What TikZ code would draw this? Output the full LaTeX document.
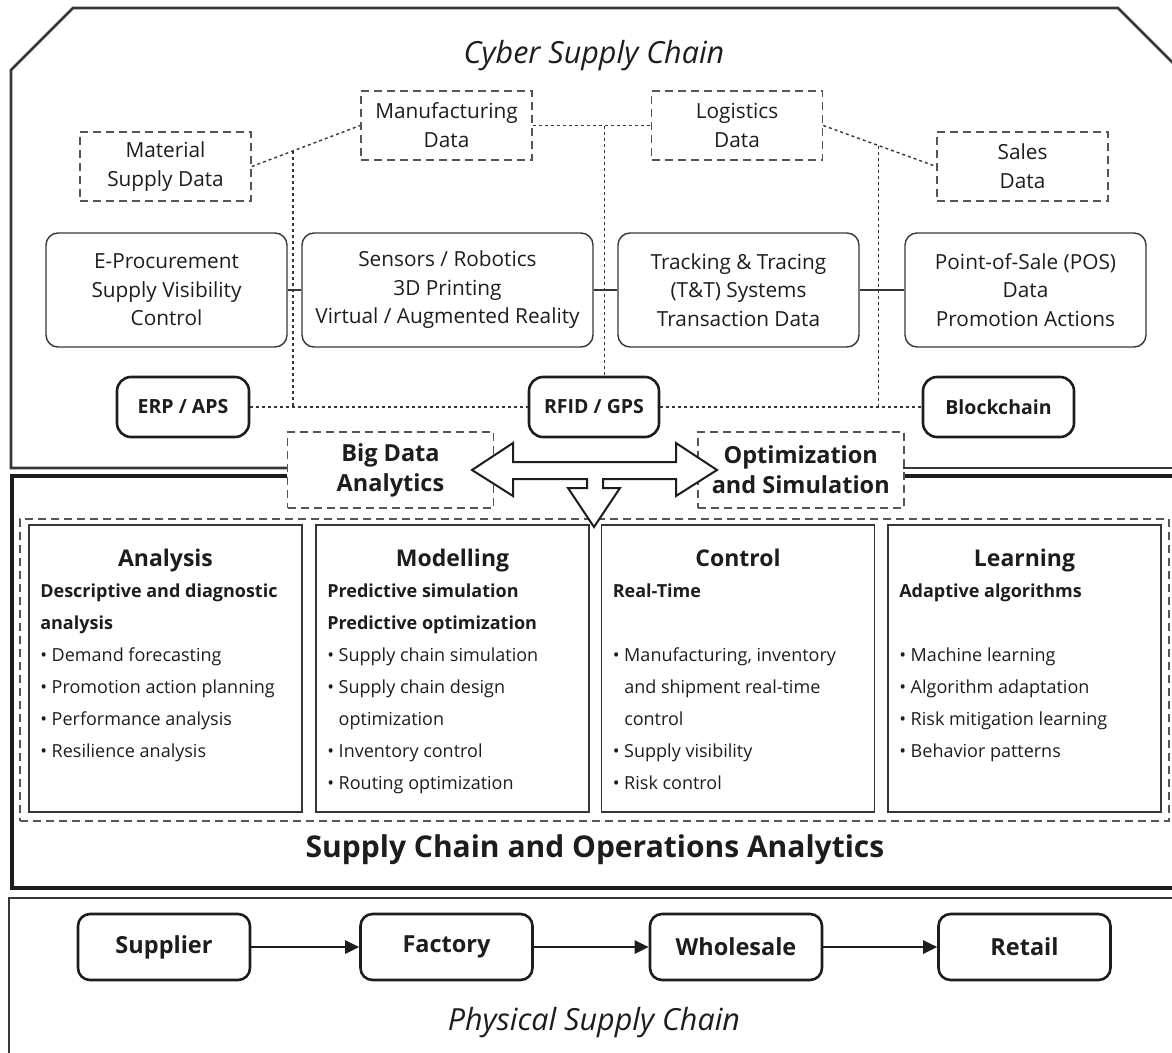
\documentclass[tikz,border=0pt]{standalone}
\usepackage{fontspec}
\setmainfont{Open Sans}
\usetikzlibrary{arrows.meta,calc}
\definecolor{ink}{RGB}{30,28,29}
\definecolor{gline}{RGB}{55,55,55}
\definecolor{dline}{RGB}{85,85,85}
\newcommand\fsz[2]{\fontsize{#1}{#2}\selectfont}
\begin{document}
\begin{tikzpicture}[x=1pt,y=-1pt,
  every node/.style={text=ink},
  databox/.style={draw=dline, dash pattern=on 8pt off 5pt, line width=1.6, minimum width=171, minimum height=69, align=center, font=\fsz{20.8}{29}},
  techbox/.style={draw=gline, rounded corners=12, line width=1.4, minimum height=114, align=center, font=\fsz{20.8}{28.5}},
  sysbox/.style={draw=ink, rounded corners=14, line width=2.6, minimum height=60, font=\fsz{19.5}{22}\bfseries},
  methbox/.style={draw=dline, dash pattern=on 8pt off 5pt, line width=1.6, minimum width=206, minimum height=76, align=center, font=\fsz{23.5}{30}\bfseries},
  anabox/.style={draw=gline, line width=1.8, minimum width=273, minimum height=287},
  anatitle/.style={anchor=base, font=\fsz{23}{28}\bfseries},
  anatext/.style={anchor=north west, align=left, inner sep=0, font=\fsz{18}{32}},
  physbox/.style={draw=ink, rounded corners=12, line width=2.6, minimum width=172, minimum height=66, font=\fsz{23.5}{26}\bfseries},
  dotline/.style={draw=gline, line width=1.4, dash pattern=on 3pt off 3pt},
  solidline/.style={draw=gline, line width=1.4},
  flow/.style={draw=ink, line width=2.6, -{Triangle[length=14,width=13]}},
  bigtitle/.style={anchor=base, font=\fsz{30.5}{34}\itshape}
]
\useasboundingbox (0,0) rectangle (1172,1052);
\clip (0,0) rectangle (1172,1052);

% ---------- panels ----------
\draw[gline, line width=2.6] (287,468) -- (11,468) -- (11,70) -- (73,8) -- (1118,8) -- (1200,90);
\draw[gline, line width=2.6] (903,468) -- (1200,468);
\draw[ink, line width=3.4] (287,476) -- (12,476) -- (12,888) -- (1200,888);
\draw[ink, line width=3.4] (903,476) -- (1200,476);
\draw[gline, line width=2.2] (9,1070) -- (9,898) -- (1200,898);

% ---------- titles ----------
\node[bigtitle] (cyber) at (594,63) {Cyber Supply Chain};
\node[bigtitle] (phys) at (594,1030) {Physical Supply Chain};
\node[anchor=base, font=\fsz{30}{34}\bfseries] (scoa) at (595,857) {Supply Chain and Operations Analytics};

% ---------- data boxes ----------
\node[databox] (mat) at (165.5,166.5) {Material\\Supply Data};
\node[databox] (manu) at (446.5,125.5) {Manufacturing\\Data};
\node[databox] (logi) at (737,125.5) {Logistics\\Data};
\node[databox] (sales) at (1022.5,166.5) {Sales\\Data};

% ---------- technology boxes ----------
\node[techbox, minimum width=241] (eproc) at (166.5,290) {E-Procurement\\Supply Visibility\\Control};
\node[techbox, minimum width=291] (sens) at (447.5,290) {Sensors / Robotics\\3D Printing\\Virtual / Augmented Reality};
\node[techbox, minimum width=241] (track) at (738.5,290) {Tracking \& Tracing\\(T\&T) Systems\\Transaction Data};
\node[techbox, minimum width=241] (pos) at (1025.5,290) {Point-of-Sale (POS)\\Data\\Promotion Actions};

% ---------- system boxes ----------
\node[sysbox, minimum width=132] (erp) at (183,407) {ERP / APS};
\node[sysbox, minimum width=130] (rfid) at (594,407) {RFID / GPS};
\node[sysbox, minimum width=151] (blk) at (998.5,407) {Blockchain};

% ---------- connectors (cyber) ----------
\draw[solidline] (eproc.east) -- (sens.west);
\draw[solidline] (sens.east) -- (track.west);
\draw[solidline] (track.east) -- (pos.west);
\draw[dotline] (mat.east) -- (manu.west);
\draw[dotline] (manu.east) -- (logi.west);
\draw[dotline] (logi.east) -- (sales.west);
\coordinate (j1) at ($(mat.east)!0.38!(manu.west)$);
\coordinate (j2) at ($(manu.east)!0.61!(logi.west)$);
\coordinate (j3) at ($(logi.east)!0.49!(sales.west)$);
\draw[dotline] (erp.east) -- (rfid.west);
\draw[dotline] (rfid.east) -- (blk.west);
\draw[dotline] (j1) -- (j1 |- erp.east);
\draw[dotline] (j2) -- (j2 |- rfid.north);
\draw[dotline] (j3) -- (j3 |- blk.west);

% ---------- method boxes ----------
\node[methbox] (bigd) at (390.5,470) {Big Data\\Analytics};
\node[methbox] (opt) at (800.75,470) {Optimization\\and Simulation};

% ---------- analytics ----------
\node[draw=dline, dash pattern=on 8pt off 5pt, line width=1.6, minimum width=1149, minimum height=302] (anaframe) at (594.5,670) {};
\node[anabox] (ana) at (165.5,668.5) {};
\node[anabox] (mod) at (452.5,668.5) {};
\node[anabox] (ctrl) at (738,668.5) {};
\node[anabox] (learn) at (1024.5,668.5) {};

\node[anatitle] (anaT) at ($(ana.north)+(0,42)$) {Analysis};
\node[anatitle] (modT) at ($(mod.north)+(0,42)$) {Modelling};
\node[anatitle] (ctrlT) at ($(ctrl.north)+(0,42)$) {Control};
\node[anatitle] (learnT) at ($(learn.north)+(0,42)$) {Learning};

\node[anatext] (anaX) at ($(ana.north west)+(12,50.6)$) {\strut\textbf{Descriptive and diagnostic}\\\textbf{analysis}\\\textbullet\ Demand forecasting\\\textbullet\ Promotion action planning\\\textbullet\ Performance analysis\\\textbullet\ Resilience analysis};
\node[anatext] (modX) at ($(mod.north west)+(12,50.6)$) {\strut\textbf{Predictive simulation}\\\textbf{Predictive optimization}\\\textbullet\ Supply chain simulation\\\textbullet\ Supply chain design\\\hphantom{\textbullet\ }optimization\\\textbullet\ Inventory control\\\textbullet\ Routing optimization};
\node[anatext] (ctrlX) at ($(ctrl.north west)+(12,50.6)$) {\strut\textbf{Real-Time}\\\mbox{}\\\textbullet\ Manufacturing, inventory\\\hphantom{\textbullet\ }and shipment real-time\\\hphantom{\textbullet\ }control\\\textbullet\ Supply visibility\\\textbullet\ Risk control};
\node[anatext] (learnX) at ($(learn.north west)+(12,50.6)$) {\strut\textbf{Adaptive algorithms}\\\mbox{}\\\textbullet\ Machine learning\\\textbullet\ Algorithm adaptation\\\textbullet\ Risk mitigation learning\\\textbullet\ Behavior patterns};

% ---------- big arrow ----------
\draw[ink, line width=2, fill=white, line join=miter]
  (472,470) -- (513,443) -- (513,462) -- (676,462) -- (676,443) -- (717,470)
  -- (676,496) -- (676,479) -- (603,479) -- (603,488) -- (620,488) -- (594,527)
  -- (568,488) -- (587,488) -- (587,479) -- (513,479) -- (513,496) -- cycle;

% ---------- physical chain ----------
\node[physbox] (sup) at (164,947) {Supplier};
\node[physbox] (fac) at (446.5,947) {Factory};
\node[physbox] (whl) at (736,947) {Wholesale};
\node[physbox] (ret) at (1024.5,947) {Retail};
\draw[flow] (sup) -- (fac);
\draw[flow] (fac) -- (whl);
\draw[flow] (whl) -- (ret);
\end{tikzpicture}
\end{document}
